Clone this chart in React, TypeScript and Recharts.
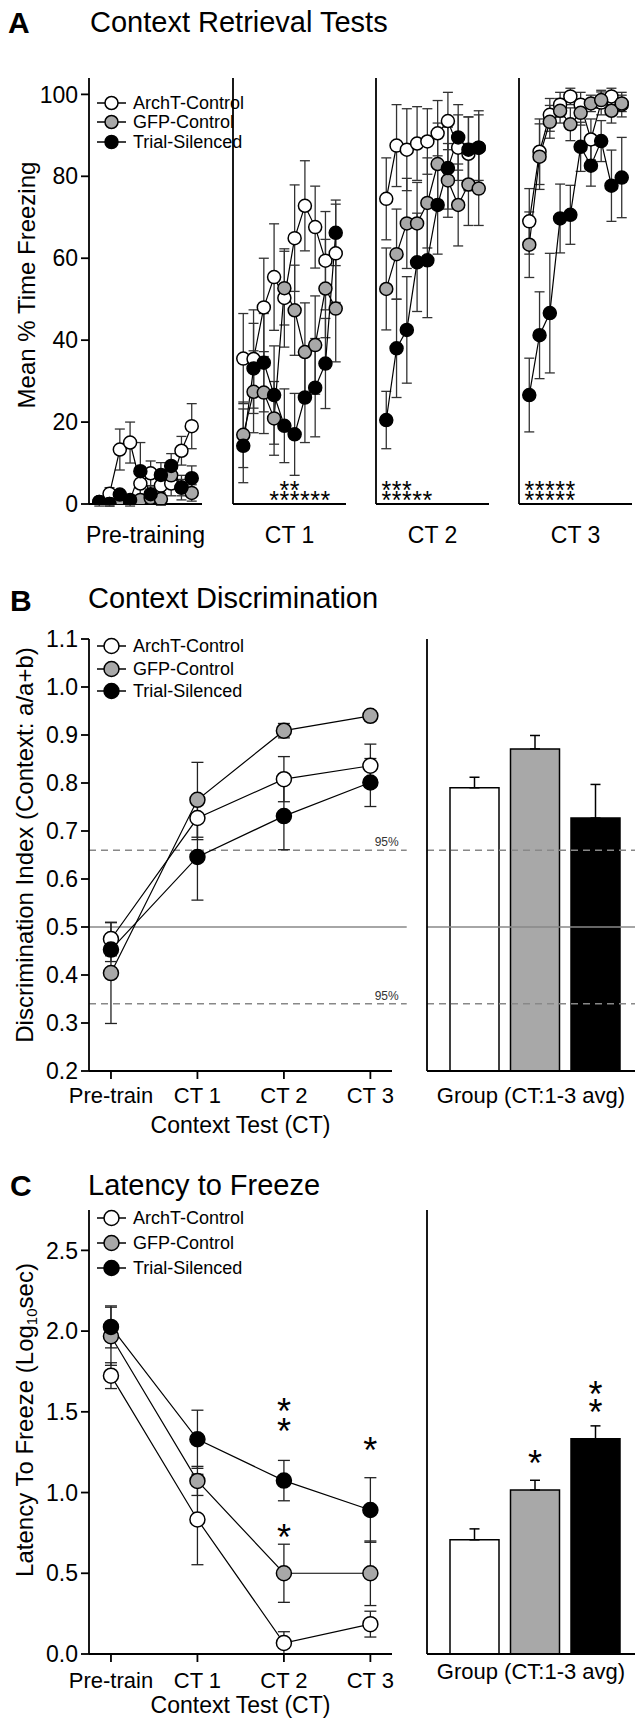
import React from "react";
import {
  ComposedChart,
  BarChart,
  Bar,
  Cell,
  Line,
  XAxis,
  YAxis,
  ErrorBar,
  Scatter,
  ReferenceLine,
  LabelList,
} from "recharts";

const FONT = '"Liberation Sans", Arial, Helvetica, sans-serif';

const groups = ["ArchT-Control", "GFP-Control", "Trial-Silenced"];
const groupFill = ["#ffffff", "#a8a8a8", "#000000"];

// ---- Panel A: % time freezing, 10 trials per session ----
const sessionsA = ["Pre-training", "CT 1", "CT 2", "CT 3"];
const trialsA = [1, 2, 3, 4, 5, 6, 7, 8, 9, 10];

const archPre = [0.5, 2.5, 13.3, 15, 5, 7.5, 4.5, 5, 13, 19];
const archCT1 = [35.5, 35.4, 48, 55.4, 50.3, 64.9, 72.8, 67.6, 59.4, 61.2];
const archCT2 = [74.5, 87.5, 86.5, 88, 88.5, 90.5, 93.5, 87, 85.5, 87];
const archCT3 = [69, 86, 95, 97.5, 99.5, 97.5, 89, 98, 99.5, 97.5];
const archPreErr = [0.5, 1.5, 5, 5, 4, 3, 3, 3, 3.5, 5.5];
const archCT1Err = [11, 12, 12, 13, 12, 13, 11, 10, 12, 12];
const archCT2Err = [10, 10, 10, 9, 8, 8, 7, 8, 9, 9];
const archCT3Err = [8, 8, 4, 3, 2, 3, 5, 3, 2, 3];

const gfpPre = [0, 0, 0.5, 0, 1, 1.5, 1.2, 7, 4, 2.7];
const gfpCT1 = [16.9, 27.4, 27.2, 20.9, 52.7, 47.3, 37.1, 38.8, 52.6, 47.7];
const gfpCT2 = [52.5, 61, 68.5, 68.5, 73.5, 83, 79, 73, 78, 77];
const gfpCT3 = [63.3, 84.8, 93.3, 96, 92.7, 95.5, 97.8, 98.6, 96, 97.8];
const gfpPreErr = [0.5, 0.5, 0.5, 0.5, 1, 1, 1.5, 3, 2, 2];
const gfpCT1Err = [8, 10, 10, 9, 9, 11, 12, 12, 12, 13];
const gfpCT2Err = [10, 11, 11, 10, 11, 10, 9, 10, 10, 9];
const gfpCT3Err = [8, 8, 4, 3, 4, 3, 2, 2, 3, 2];

const trialPre = [0.5, 0, 2.3, 1, 8, 2.4, 7.1, 9.3, 4, 6.3];
const trialCT1 = [14.2, 33.1, 34.5, 26.6, 19.1, 17, 26, 28.4, 34.3, 66.2];
const trialCT2 = [20.5, 38, 42.5, 59, 59.5, 73, 82, 89.5, 86.5, 87];
const trialCT3 = [26.6, 41.2, 46.6, 69.7, 70.6, 87.2, 82.6, 88.6, 77.7, 79.7];
const trialPreErr = [0.5, 0.5, 1, 1, 7, 2, 3, 3, 3, 3];
const trialCT1Err = [9, 11, 12, 12, 9, 10, 11, 12, 11, 8];
const trialCT2Err = [7, 12, 13, 12, 14, 12, 10, 8, 8, 8];
const trialCT3Err = [9, 10.6, 14.6, 8.4, 7.2, 6, 5, 5, 8.7, 9.8];

const archA = [archPre, archCT1, archCT2, archCT3];
const archErrA = [archPreErr, archCT1Err, archCT2Err, archCT3Err];
const gfpA = [gfpPre, gfpCT1, gfpCT2, gfpCT3];
const gfpErrA = [gfpPreErr, gfpCT1Err, gfpCT2Err, gfpCT3Err];
const trialA = [trialPre, trialCT1, trialCT2, trialCT3];
const trialErrA = [trialPreErr, trialCT1Err, trialCT2Err, trialCT3Err];

// significance rows (trial numbers carrying a star)
const starsTopA = [[], [5, 6], [1, 2, 3], [1, 2, 3, 4, 5]];
const starsBottomA = [[], [4, 5, 6, 7, 8, 9], [1, 2, 3, 4, 5], [1, 2, 3, 4, 5]];
const starLevelsA = [4.6, 2.2];

// ---- Panel B: discrimination index ----
const testLabels = ["Pre-train", "CT 1", "CT 2", "CT 3"];
const archB = [0.475, 0.727, 0.808, 0.836];
const archBErr = [0.035, 0.045, 0.047, 0.045];
const gfpB = [0.404, 0.765, 0.909, 0.94];
const gfpBErr = [0.105, 0.078, 0.015, 0.01];
const trialB = [0.453, 0.646, 0.731, 0.801];
const trialBErr = [0.025, 0.09, 0.07, 0.05];
const avgB = [0.79, 0.871, 0.727];
const avgBErr = [0.022, 0.028, 0.07];

// ---- Panel C: latency to freeze (log10 s) ----
const archC = [1.724, 0.833, 0.068, 0.185];
const archCErr = [0.08, 0.28, 0.07, 0.08];
const gfpC = [1.968, 1.072, 0.5, 0.5];
const gfpCErr = [0.18, 0.09, 0.18, 0.2];
const trialC = [2.026, 1.33, 1.074, 0.892];
const trialCErr = [0.13, 0.18, 0.125, 0.2];
const starsC = [
  { x: 2, y: 1.55 },
  { x: 2, y: 1.43 },
  { x: 2, y: 0.77 },
  { x: 3, y: 1.31 },
];
const avgC = [0.707, 1.016, 1.333];
const avgCErr = [0.068, 0.06, 0.08];
const avgCStars = ["", "*", "**"];

const axisStyle = { stroke: "#000", strokeWidth: 1.8 };
const tickText = { fontSize: 23, fill: "#000", fontFamily: FONT };

const starShape = (size: number) => (p: any) =>
  (
    <text
      x={p.cx}
      y={p.cy + size * 0.57}
      textAnchor="middle"
      fontSize={size}
      fontFamily={FONT}
      fill="#000"
    >
      *
    </text>
  );

const rotLabel = (text: React.ReactNode, cx: number, shift: number) => (props: any) => {
  const vb = props.viewBox || {};
  const cy = vb.y + vb.height / 2 + shift;
  return (
    <text
      x={cx}
      y={cy}
      transform={`rotate(-90 ${cx} ${cy})`}
      textAnchor="middle"
      dominantBaseline="central"
      fontSize={24}
      fontFamily={FONT}
      fill="#000"
    >
      {text}
    </text>
  );
};

const refLabel = (props: any) => {
  const vb = props.viewBox || {};
  return (
    <text
      x={vb.x + vb.width - 8}
      y={vb.y - 4}
      textAnchor="end"
      fontSize={12}
      fontFamily={FONT}
      fill="#333"
    >
      95%
    </text>
  );
};

const seriesLines = (r: number, errW: number, errStroke: string) =>
  ["arch", "gfp", "trial"].map((k, i) => (
    <Line
      key={k}
      type="linear"
      dataKey={k}
      stroke="#000"
      strokeWidth={1.2}
      dot={{ r, fill: groupFill[i], stroke: "#000", strokeWidth: 1.5 }}
      activeDot={false}
      isAnimationActive={false}
    >
      <ErrorBar dataKey={`${k}Err`} width={errW} stroke={errStroke} strokeWidth={1.3} direction="y" />
    </Line>
  ));

const segAxisX = [89, 232.5, 376, 519];

function SessionChart({ s }: { s: number }) {
  const yW = s === 0 ? 89 : 14;
  const rows = trialsA.map((t, i) => ({
    x: t,
    arch: archA[s][i],
    archErr: archErrA[s][i],
    gfp: gfpA[s][i],
    gfpErr: gfpErrA[s][i],
    trial: trialA[s][i],
    trialErr: trialErrA[s][i],
  }));
  const stars = [
    ...starsTopA[s].map((x) => ({ x, y: starLevelsA[0] })),
    ...starsBottomA[s].map((x) => ({ x, y: starLevelsA[1] })),
  ];
  return (
    <div style={{ position: "absolute", left: segAxisX[s] - yW, top: 0 }}>
      <ComposedChart
        width={yW + 116}
        height={554}
        data={rows}
        margin={{ top: 78, right: 3, bottom: 0, left: 0 }}
      >
        <XAxis
          type="number"
          dataKey="x"
          domain={[0, 11]}
          ticks={[1, 2, 3, 4, 5, 6, 7, 8, 9, 10, 11]}
          interval={0}
          tick={false}
          tickSize={7}
          axisLine={axisStyle}
          tickLine={axisStyle}
          height={50}
          allowDataOverflow
          label={{
            value: sessionsA[s],
            position: "insideBottom",
            offset: 11,
            fontSize: 23,
            fill: "#000",
            fontFamily: FONT,
          }}
        />
        <YAxis
          type="number"
          domain={[0, 104]}
          ticks={[0, 20, 40, 60, 80, 100]}
          interval={0}
          width={yW}
          tick={s === 0 ? tickText : false}
          tickSize={8}
          tickMargin={3}
          axisLine={axisStyle}
          tickLine={axisStyle}
          allowDataOverflow
          label={s === 0 ? { content: rotLabel("Mean % Time Freezing", 26, -6) } : undefined}
        />
        {seriesLines(6.5, 5, "#333")}
        {stars.length > 0 && (
          <Scatter data={stars} dataKey="y" shape={starShape(25)} isAnimationActive={false} />
        )}
      </ComposedChart>
    </div>
  );
}

function TestChart({
  top,
  height,
  marginTop,
  axisH,
  domain,
  ticks,
  rows,
  yLabel,
  labelShift,
  tickMargin,
  titleOffset,
  refs,
  stars,
}: any) {
  return (
    <div style={{ position: "absolute", left: 0, top }}>
      <ComposedChart
        width={415}
        height={height}
        data={rows}
        margin={{ top: marginTop, right: 23, bottom: 0, left: 0 }}
      >
        <XAxis
          type="number"
          dataKey="x"
          domain={[-0.254, 3.25]}
          ticks={[0, 1, 2, 3]}
          interval={0}
          tickFormatter={(v: number) => testLabels[v]}
          tick={{ fontSize: 22, fill: "#000", fontFamily: FONT }}
          tickSize={8}
          tickMargin={tickMargin}
          axisLine={axisStyle}
          tickLine={axisStyle}
          height={axisH}
          allowDataOverflow
          label={{
            value: "Context Test (CT)",
            position: "insideBottom",
            offset: titleOffset,
            fontSize: 23,
            fill: "#000",
            fontFamily: FONT,
          }}
        />
        <YAxis
          type="number"
          domain={domain}
          ticks={ticks}
          interval={0}
          tickFormatter={(v: number) => v.toFixed(1)}
          width={89}
          tick={tickText}
          tickSize={8}
          tickMargin={3}
          axisLine={axisStyle}
          tickLine={axisStyle}
          allowDataOverflow
          label={{ content: rotLabel(yLabel, 24, labelShift) }}
        />
        {refs &&
          refs.map((rf: any) => (
            <ReferenceLine
              key={rf.y}
              segment={[
                { x: -0.254, y: rf.y },
                { x: 3.42, y: rf.y },
              ]}
              stroke="#888"
              strokeWidth={1.5}
              strokeDasharray={rf.dashed ? "7 5" : undefined}
              ifOverflow="visible"
              label={rf.dashed ? { content: refLabel } : undefined}
            />
          ))}
        {seriesLines(7.5, 6, "#222")}
        {stars && (
          <Scatter data={stars} dataKey="y" shape={starShape(36)} isAnimationActive={false} />
        )}
      </ComposedChart>
    </div>
  );
}

function AvgBars({ top, height, marginTop, axisH, domain, ticks, values, errs, labelOffset, refs, stars }: any) {
  const rows = groups.map((g, i) => ({
    group: g,
    value: values[i],
    err: [0, errs[i]],
    stars: stars ? stars[i] : "",
  }));
  const renderStars = (p: any) => {
    const txt: string = p.value || "";
    const cx = p.x + p.width / 2;
    return (
      <g>
        {txt.split("").map((c, k) => (
          <text
            key={k}
            x={cx}
            y={p.y - 34 - k * 18 + 36 * 0.57}
            textAnchor="middle"
            fontSize={36}
            fontFamily={FONT}
            fill="#000"
          >
            {c}
          </text>
        ))}
      </g>
    );
  };
  return (
    <div style={{ position: "absolute", left: 415, top }}>
      <BarChart
        width={220}
        height={height}
        data={rows}
        margin={{ top: marginTop, right: 0, bottom: 0, left: 0 }}
        barSize={49}
      >
        <XAxis
          dataKey="group"
          tick={false}
          tickLine={false}
          axisLine={axisStyle}
          height={axisH}
          padding={{ left: 17, right: 9.5 }}
          label={{
            value: "Group (CT:1-3 avg)",
            position: "insideBottom",
            offset: labelOffset,
            fontSize: 22,
            fill: "#000",
            fontFamily: FONT,
          }}
        />
        <YAxis
          type="number"
          domain={domain}
          ticks={ticks}
          interval={0}
          width={12}
          tick={false}
          tickSize={8}
          axisLine={axisStyle}
          tickLine={axisStyle}
          allowDataOverflow
        />
        <Bar dataKey="value" stroke="#000" strokeWidth={1.5} isAnimationActive={false}>
          {rows.map((_, i) => (
            <Cell key={i} fill={groupFill[i]} />
          ))}
          <ErrorBar dataKey="err" width={5} stroke="#000" strokeWidth={1.5} direction="y" />
          {stars && <LabelList dataKey="stars" content={renderStars} />}
        </Bar>
        {refs &&
          refs.map((rf: any) => (
            <ReferenceLine
              key={rf.y}
              y={rf.y}
              stroke="#888"
              strokeWidth={1.5}
              strokeDasharray={rf.dashed ? "7 5" : undefined}
            />
          ))}
      </BarChart>
    </div>
  );
}

function Legend({ rows, r }: { rows: number[]; r: number }) {
  return (
    <>
      {groups.map((g, i) => (
        <g key={g}>
          <line x1={97} x2={126} y1={rows[i]} y2={rows[i]} stroke="#000" strokeWidth={1.5} />
          <circle cx={111.5} cy={rows[i]} r={r} fill={groupFill[i]} stroke="#000" strokeWidth={1.5} />
          <text x={133} y={rows[i]} dominantBaseline="central" fontSize={18} fontFamily={FONT} fill="#000">
            {g}
          </text>
        </g>
      ))}
    </>
  );
}

const refsB = [
  { y: 0.66, dashed: true },
  { y: 0.5, dashed: false },
  { y: 0.34, dashed: true },
];

export default function App() {
  const rowsB = testLabels.map((_, i) => ({
    x: i,
    arch: archB[i],
    archErr: archBErr[i],
    gfp: gfpB[i],
    gfpErr: gfpBErr[i],
    trial: trialB[i],
    trialErr: trialBErr[i],
  }));
  const rowsC = testLabels.map((_, i) => ({
    x: i,
    arch: archC[i],
    archErr: archCErr[i],
    gfp: gfpC[i],
    gfpErr: gfpCErr[i],
    trial: trialC[i],
    trialErr: trialCErr[i],
  }));
  return (
    <div
      style={{
        position: "absolute",
        left: 0,
        top: 0,
        width: 635,
        height: 1721,
        overflow: "hidden",
        background: "#fff",
        fontFamily: FONT,
      }}
    >
      {[0, 1, 2, 3].map((s) => (
        <SessionChart key={s} s={s} />
      ))}

      <TestChart
        top={600}
        height={541}
        marginTop={39}
        axisH={70}
        domain={[0.2, 1.1]}
        ticks={[0.2, 0.3, 0.4, 0.5, 0.6, 0.7, 0.8, 0.9, 1.0, 1.1]}
        rows={rowsB}
        yLabel="Discrimination Index (Context: a/a+b)"
        labelShift={-10}
        tickMargin={8}
        titleOffset={8}
        refs={refsB}
      />
      <AvgBars
        top={600}
        height={541}
        marginTop={39}
        axisH={70}
        domain={[0.2, 1.1]}
        ticks={[0.2, 0.3, 0.4, 0.5, 0.6, 0.7, 0.8, 0.9, 1.0, 1.1]}
        values={avgB}
        errs={avgBErr}
        labelOffset={38}
        refs={refsB}
      />

      <TestChart
        top={1180}
        height={545}
        marginTop={30}
        axisH={71}
        domain={[0, 2.75]}
        ticks={[0, 0.5, 1.0, 1.5, 2.0, 2.5]}
        rows={rowsC}
        yLabel={
          <>
            Latency To Freeze (Log
            <tspan fontSize={15} dy={7}>
              10
            </tspan>
            <tspan dy={-7}>sec)</tspan>
          </>
        }
        labelShift={-12}
        tickMargin={10}
        titleOffset={12}
        stars={starsC}
      />
      <AvgBars
        top={1180}
        height={545}
        marginTop={30}
        axisH={71}
        domain={[0, 2.75]}
        ticks={[0, 0.5, 1.0, 1.5, 2.0, 2.5]}
        values={avgC}
        errs={avgCErr}
        labelOffset={46}
        stars={avgCStars}
      />

      <svg
        width={635}
        height={1721}
        style={{ position: "absolute", left: 0, top: 0, pointerEvents: "none" }}
      >
        <text x={8} y={33} fontSize={30} fontWeight="bold" fontFamily={FONT} fill="#000">
          A
        </text>
        <text x={90} y={32} fontSize={29} fontFamily={FONT} fill="#000">
          Context Retrieval Tests
        </text>
        <text x={10} y={611} fontSize={30} fontWeight="bold" fontFamily={FONT} fill="#000">
          B
        </text>
        <text x={88} y={608} fontSize={29} fontFamily={FONT} fill="#000">
          Context Discrimination
        </text>
        <text x={10} y={1196} fontSize={30} fontWeight="bold" fontFamily={FONT} fill="#000">
          C
        </text>
        <text x={88} y={1195} fontSize={29} fontFamily={FONT} fill="#000">
          Latency to Freeze
        </text>
        <Legend rows={[103, 122, 142]} r={6.5} />
        <Legend rows={[646, 669, 691]} r={7.5} />
        <Legend rows={[1218, 1243, 1268]} r={7.5} />
      </svg>
    </div>
  );
}
